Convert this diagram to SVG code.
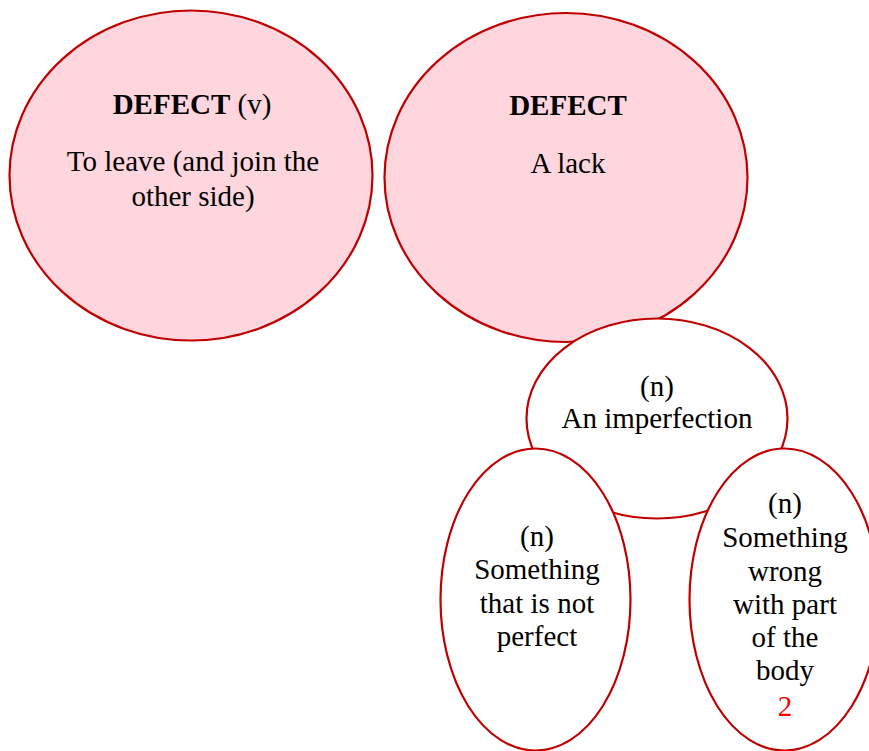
<svg xmlns="http://www.w3.org/2000/svg" width="869" height="751" viewBox="0 0 869 751">
<style>
.e{stroke:#c00000;stroke-width:2.2}
.pk{fill:#ffd5de}
.wh{fill:#ffffff}
text{font-family:"Liberation Serif","Times New Roman",serif;font-size:29px;fill:#000;text-anchor:middle}
.b{font-weight:bold}
.r{fill:#ff0000}
</style>
<rect width="869" height="751" fill="#ffffff"/>
<g id="connectors"></g>
<g id="node-verb">
<ellipse class="e pk" cx="191" cy="175.5" rx="181.5" ry="165"/>
<text x="192" y="114"><tspan class="b">DEFECT</tspan> (v)</text>
<text x="193" y="171">To leave (and join the</text>
<text x="193" y="206">other side)</text>
</g>
<g id="node-noun">
<ellipse class="e pk" cx="566" cy="177.5" rx="181.5" ry="164.5"/>
<text x="568" y="115" class="b">DEFECT</text>
<text x="568" y="173">A lack</text>
</g>
<g id="node-imperfection">
<ellipse class="e wh" cx="657" cy="418.5" rx="130.5" ry="100"/>
<text x="657" y="396">(n)</text>
<text x="657" y="428">An imperfection</text>
</g>
<g id="node-not-perfect">
<ellipse class="e wh" cx="535.5" cy="599.5" rx="95" ry="151"/>
<text x="537" y="546">(n)</text>
<text x="537" y="579">Something</text>
<text x="537" y="613">that is not</text>
<text x="537" y="646">perfect</text>
</g>
<g id="node-body">
<ellipse class="e wh" cx="784.5" cy="599.5" rx="95" ry="151"/>
<text x="785" y="513">(n)</text>
<text x="785" y="547">Something</text>
<text x="785" y="581">wrong</text>
<text x="785" y="614">with part</text>
<text x="785" y="647">of the</text>
<text x="785" y="680">body</text>
<text x="785" y="716" class="r">2</text>
</g>
</svg>
